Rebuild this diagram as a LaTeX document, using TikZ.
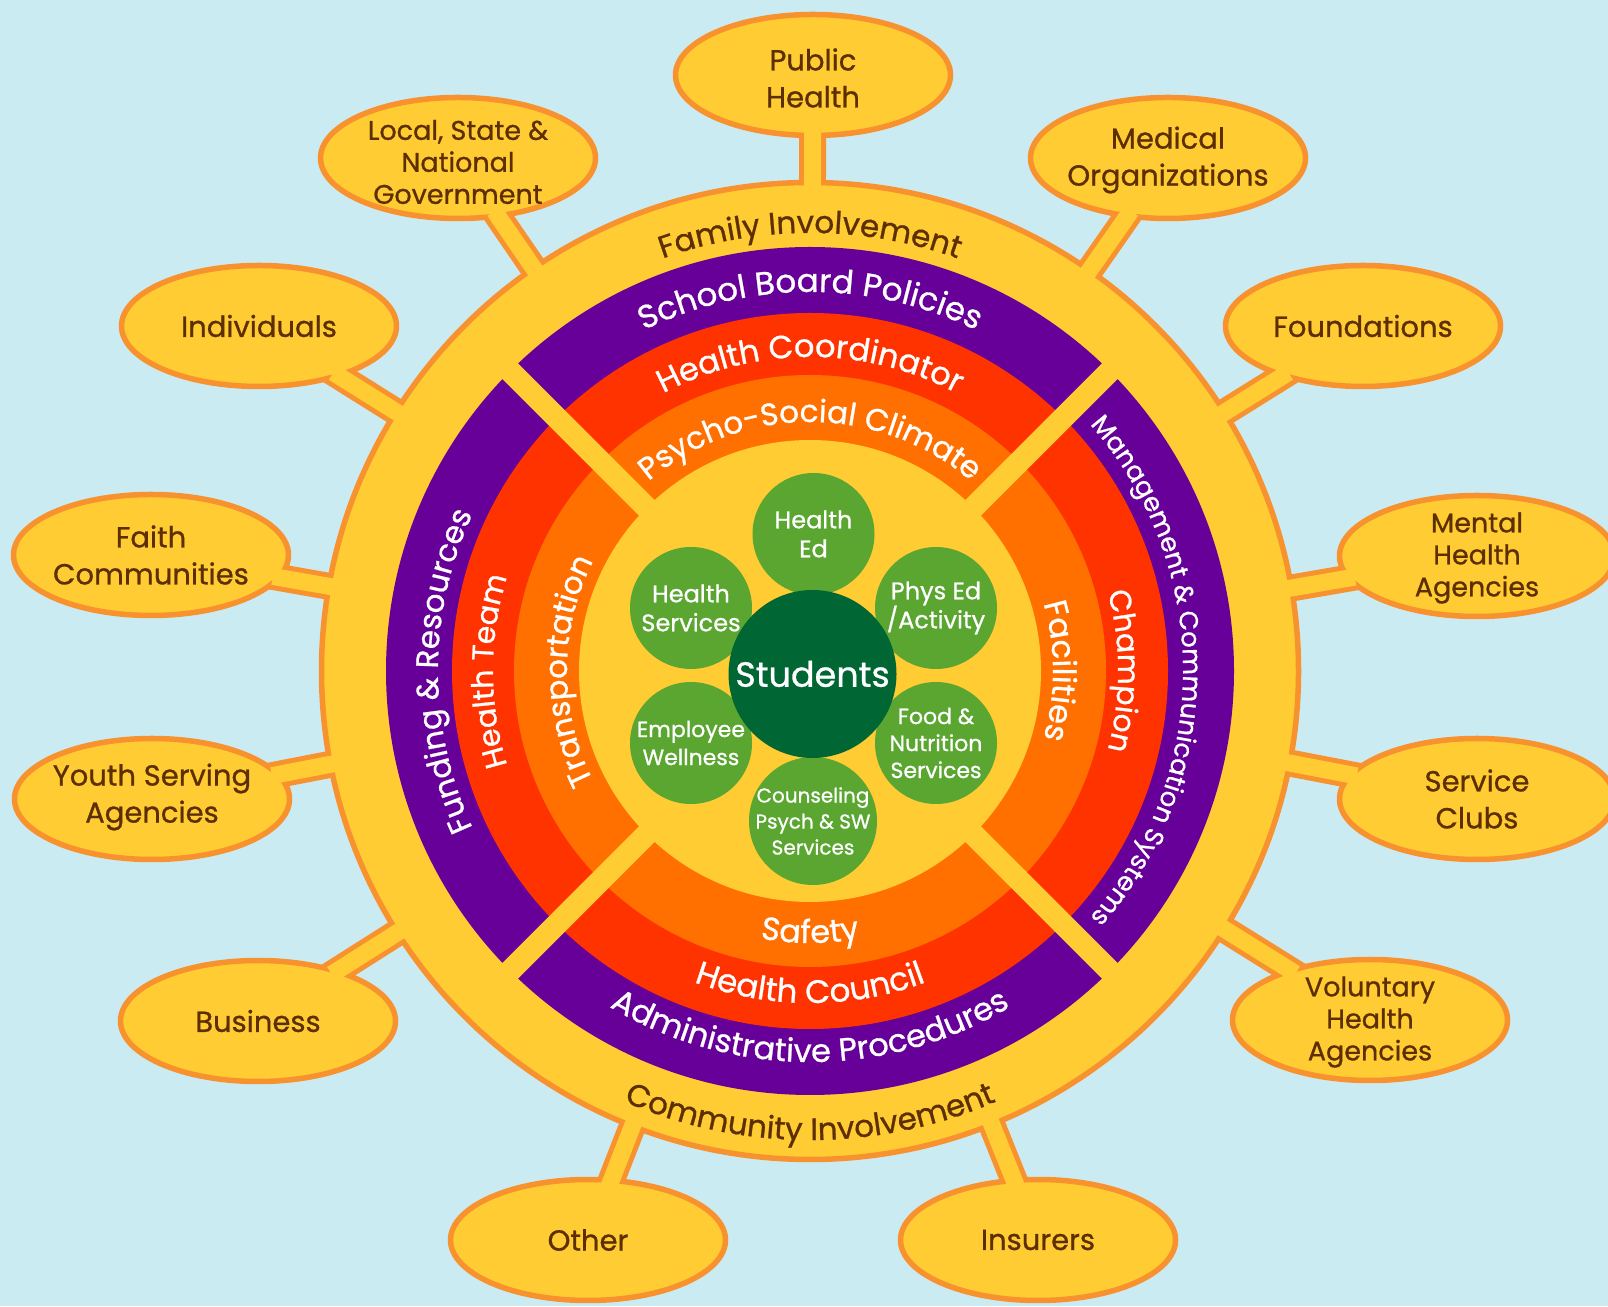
\documentclass[tikz,border=0pt]{standalone}
\usepackage{fontspec}
\setmainfont{Poppins}[FakeBold=0.8]
\usetikzlibrary{shapes.geometric,decorations.text}
\definecolor{bg}{HTML}{CBEBF2}
\definecolor{yel}{HTML}{FFCC33}
\definecolor{bord}{HTML}{F7922F}
\definecolor{purp}{HTML}{660099}
\definecolor{redr}{HTML}{FF3300}
\definecolor{orng}{HTML}{FF7000}
\definecolor{dgreen}{HTML}{006633}
\definecolor{lgreen}{HTML}{5AA631}
\definecolor{brownt}{HTML}{5C2E00}
\newcommand\ringtext[6]{\path[decorate,decoration={text along path,text align=center,text={|\fontsize{#2}{#2}\selectfont\color{#1}|#6}}] (#4:#3pt) arc[start angle=#4,end angle=#5,radius=#3pt];}
\tikzset{
  stemout/.style={draw=bord, line width=27pt},
  stemin/.style={draw=yel, line width=17pt, shorten <=-9pt},
  partner/.style={ellipse, draw=bord, fill=yel, line width=5.5pt, minimum width=275pt, minimum height=121pt, inner sep=0pt},
  ptext/.style={text=brownt, align=center, inner sep=0pt, font=\fontsize{29}{37}\selectfont},
  ptextsm/.style={ptext, font=\fontsize{27}{32}\selectfont},
  gcirc/.style={circle, fill=lgreen, minimum size=122pt, inner sep=0pt},
  gtext/.style={text=white, align=center, inner sep=0pt, font=\fontsize{23}{29}\selectfont},
}
\begin{document}
\begin{tikzpicture}[x=1pt,y=1pt]
\fill[bg] (0,0) rectangle (1608,1306);
\useasboundingbox (0,0) rectangle (1608,1306);
\coordinate (C) at (810,635);
\coordinate (phc) at (813,1231);
\coordinate (lsnc) at (458,1148);
\coordinate (moc) at (1168,1148);
\coordinate (indc) at (259,980);
\coordinate (fndc) at (1363,980);
\coordinate (faic) at (151,751);
\coordinate (mhac) at (1477,750);
\coordinate (ysac) at (152,507);
\coordinate (scc) at (1477,507);
\coordinate (busc) at (258,285);
\coordinate (vhac) at (1370,286);
\coordinate (othc) at (588,66);
\coordinate (insc) at (1038,66);
% orange stems
\foreach \e in {phc,lsnc,moc,indc,fndc,faic,mhac,ysac,scc,busc,vhac,othc,insc}
  \draw[stemout] (\e) -- (C);
% outer circle
\filldraw[fill=yel, draw=bord, line width=5.5pt] (C) circle[radius=488.5pt];
% partner ellipses
\node[partner] (ph) at (phc) {};
\node[partner] (lsn) at (lsnc) {};
\node[partner] (mo) at (moc) {};
\node[partner] (ind) at (indc) {};
\node[partner] (fnd) at (fndc) {};
\node[partner] (fai) at (faic) {};
\node[partner] (mha) at (mhac) {};
\node[partner] (ysa) at (ysac) {};
\node[partner] (sc) at (scc) {};
\node[partner] (bus) at (busc) {};
\node[partner] (vha) at (vhac) {};
\node[partner] (oth) at (othc) {};
\node[partner] (ins) at (insc) {};
% yellow stems
\foreach \e in {ph,lsn,mo,ind,fnd,fai,mha,ysa,sc,bus,vha,oth,ins}
  \draw[stemin] (\e) -- (C);
% labels
\node[ptext] (phl) at ([yshift=-3pt]ph.center) {Public\\Health};
\node[ptextsm] (lsnl) at ([yshift=-4pt]lsn.center) {Local, State \&\\National\\Government};
\node[ptext] (mol) at ([yshift=-2pt]mo.center) {Medical\\Organizations};
\node[ptext] (indl) at (ind) {Individuals};
\node[ptext] (fndl) at (fnd) {Foundations};
\node[ptext] (fail) at (fai) {Faith\\Communities};
\node[ptextsm] (mhal) at ([yshift=-2pt]mha.center) {Mental\\Health\\Agencies};
\node[ptext] (ysal) at ([yshift=2pt]ysa.center) {Youth Serving\\Agencies};
\node[ptext] (scl) at (sc) {Service\\Clubs};
\node[ptext] (busl) at (bus) {Business};
\node[ptextsm] (vhal) at ([yshift=-2pt]vha.center) {Voluntary\\Health\\Agencies};
\node[ptext] (othl) at (oth) {Other};
\node[ptext] (insl) at (ins) {Insurers};
% wheel
\begin{scope}[shift={(C)}]
\fill[purp] (0,0) circle[radius=424pt];
\fill[redr] (0,0) circle[radius=358pt];
\fill[orng] (0,0) circle[radius=296pt];
\draw[yel, line width=22pt] (45:425pt) -- (225:425pt);
\draw[yel, line width=22pt] (135:425pt) -- (315:425pt);
\fill[yel] (0,0) circle[radius=231pt];
% top texts
\ringtext{brownt}{31}{438}{150}{30}{Family Involvement}
\ringtext{white}{32.5}{379}{150}{30}{School Board Policies}
\ringtext{white}{32}{314}{150}{30}{Health Coordinator}
\ringtext{white}{31}{249}{150}{30}{Psycho-Social Climate}
% bottom texts
\ringtext{white}{32}{272}{-150}{-30}{Safety}
\ringtext{white}{32.5}{332}{-150}{-30}{Health Council}
\ringtext{white}{32}{391}{-150}{-30}{Administrative Procedures}
\ringtext{brownt}{31}{469}{-150}{-30}{Community Involvement}
% left texts
\ringtext{white}{31}{372}{240}{120}{Funding {\&} Resources}
\ringtext{white}{30}{317}{240}{120}{Health Team}
\ringtext{white}{31}{243}{240}{120}{Transportation}
% right texts
\ringtext{white}{32}{243}{55}{-55}{Facilities}
\ringtext{white}{30}{308}{55}{-55}{Champion}
\ringtext{white}{26}{373}{55}{-55}{Management {\&} Communication Systems}
% green circles
\node[gcirc] (hed) at (3.5,137) {};
\node[gcirc] (hsv) at (-119,63) {};
\node[gcirc] (phy) at (126,63) {};
\node[gcirc] (emp) at (-119,-72) {};
\node[gcirc] (fod) at (126,-72) {};
\node[gcirc, minimum size=128pt] (cou) at (3,-150) {};
\node[circle, fill=dgreen, minimum size=168pt, inner sep=0pt] (stu) at (2.5,-3) {};
\node[gtext, font=\fontsize{24}{29}\selectfont] (hedl) at (hed) {Health\\Ed};
\node[gtext, font=\fontsize{24}{29}\selectfont] (hsvl) at (hsv) {Health\\Services};
\node[gtext, font=\fontsize{24}{29}\selectfont] (phyl) at (phy) {Phys Ed\\/Activity};
\node[gtext, font=\fontsize{22}{28}\selectfont] (empl) at (emp) {Employee\\Wellness};
\node[gtext, font=\fontsize{22}{27}\selectfont] (fodl) at (fod) {Food \&\\Nutrition\\Services};
\node[gtext, font=\fontsize{20}{26}\selectfont] (coul) at (cou) {Counseling\\Psych \& SW\\Services};
\node[gtext, font=\fontsize{35}{40}\selectfont] (stul) at (stu) {Students};
\end{scope}
\end{tikzpicture}
\end{document}
